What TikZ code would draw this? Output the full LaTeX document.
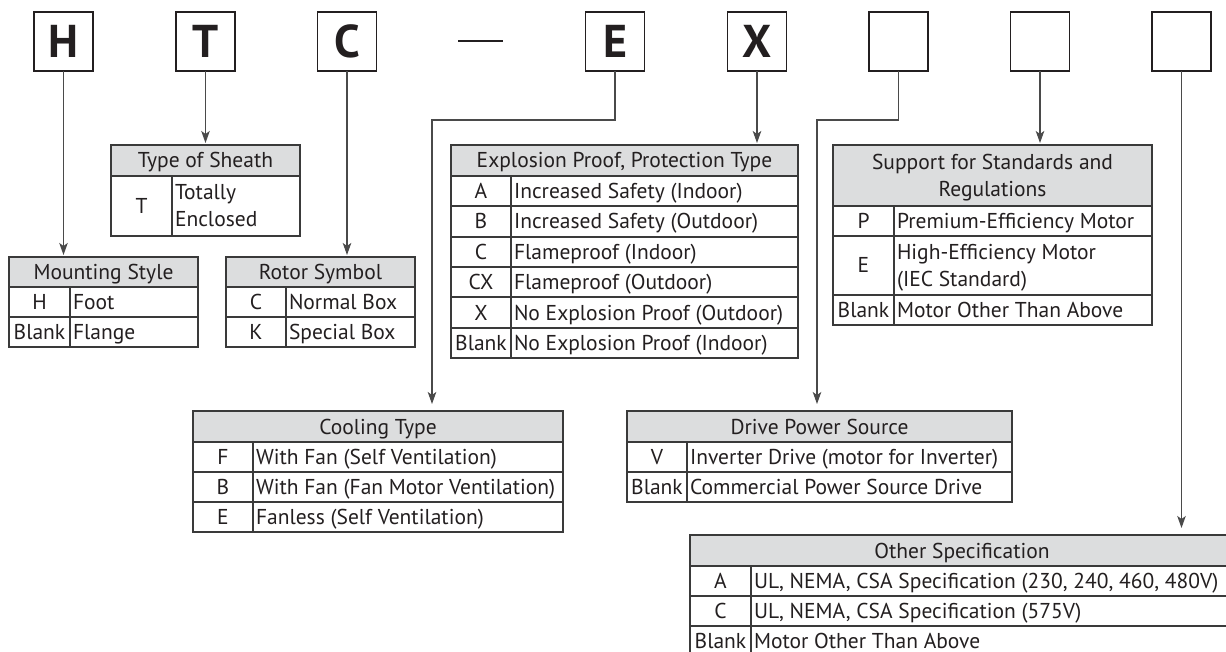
\documentclass[tikz,border=0pt]{standalone}
\usepackage{fontspec}
\setmainfont{PT Sans}
\usetikzlibrary{arrows.meta}
\definecolor{hdrgray}{HTML}{DCDDDE}
\definecolor{ink}{HTML}{231F20}
\definecolor{rulec}{HTML}{3A3A3A}
\definecolor{wirec}{HTML}{4A4A4A}
\tikzset{
  lbox/.style={draw=ink, line width=1.8pt, minimum size=59pt, inner sep=0pt, outer sep=0pt,
    font=\fontsize{46}{46}\selectfont\bfseries, text=ink},
  hdrbox/.style={draw=rulec, fill=hdrgray, line width=1.2pt, inner sep=0pt, outer sep=0pt, anchor=north west},
  tbl/.style={draw=rulec, line width=1.2pt},
  txt/.style={inner sep=0pt, outer sep=0pt, text=ink, font=\fontsize{21.5}{27}\selectfont},
  wire/.style={draw=wirec, line width=1.1pt, -{Stealth[length=12pt,width=8.5pt,inset=3pt]}, shorten >=2pt},
  farwire/.style={wire, shorten >=7pt},
}
% header, single line: name x0 x1 ytop ybot text
\newcommand{\thead}[6]{%
  \node[hdrbox, minimum width={(#3-#2)*1pt}, minimum height={(#5-#4)*1pt}] (#1) at (#2,#4) {};
  \node[txt, anchor=base] (#1t) at ({(#2+#3)/2},{(#4+#5)/2+7.5}) {#6};}
% header, two lines
\newcommand{\theadtwo}[7]{%
  \node[hdrbox, minimum width={(#3-#2)*1pt}, minimum height={(#5-#4)*1pt}] (#1) at (#2,#4) {};
  \node[txt, anchor=base] (#1t) at ({(#2+#3)/2},{(#4+#5)/2-6}) {#6};
  \node[txt, anchor=base] (#1u) at ({(#2+#3)/2},{(#4+#5)/2+21}) {#7};}
% row: name x0 xd x1 ytop ybot key value
\newcommand{\trow}[8]{%
  \draw[tbl] (#2,#5) rectangle (#4,#6) (#3,#5) -- (#3,#6);
  \node[txt, anchor=base] (#1k) at ({(#2+#3)/2},{(#5+#6)/2+7.5}) {#7};
  \node[txt, anchor=base west] (#1v) at ({#3+3},{(#5+#6)/2+7.5}) {#8};}
% two-line row
\newcommand{\trowtwo}[9]{%
  \draw[tbl] (#2,#5) rectangle (#4,#6) (#3,#5) -- (#3,#6);
  \node[txt, anchor=base] (#1k) at ({(#2+#3)/2},{(#5+#6)/2+7.5}) {#7};
  \node[txt, anchor=base west] (#1v) at ({#3+3},{(#5+#6)/2-6}) {#8};
  \node[txt, anchor=base west] (#1w) at ({#3+3},{(#5+#6)/2+21}) {#9};}
\begin{document}
\begin{tikzpicture}[x=1pt,y=-1pt]
\useasboundingbox (0,0) rectangle (1226,652);
\clip (0,0) rectangle (1226,652);
\fill[white] (0,0) rectangle (1226,652);
% code boxes
\node[lbox] (Hb) at (63.5,41.5) {H};
\node[lbox] (Tb) at (205.5,41.5) {T};
\node[lbox] (Cb) at (347,41.5) {C};
\node[lbox] (Eb) at (615,41.5) {E};
\node[lbox] (Xb) at (757,41.5) {X};
\node[lbox] (B6) at (898.5,41.5) {};
\node[lbox] (B7) at (1040,41.5) {};
\node[lbox] (B8) at (1181.5,41.5) {};
\coordinate (dashL) at (458,41);
\coordinate (dashR) at (503,41);
\draw[ink, line width=1.5pt] (dashL) -- (dashR);
% Type of Sheath
\thead{sheath}{111}{300}{145}{176}{Type of Sheath}
\trowtwo{shT}{111}{172}{300}{176}{236}{T}{Totally}{Enclosed}
% Mounting Style
\thead{mount}{9}{198}{257}{287}{Mounting Style}
\trow{msH}{9}{70}{198}{287}{317}{H}{Foot}
\trow{msB}{9}{70}{198}{317}{347}{Blank}{Flange}
% Rotor Symbol
\thead{rotor}{226}{415}{257}{287}{Rotor Symbol}
\trow{rsC}{226}{286}{415}{287}{317}{C}{Normal Box}
\trow{rsK}{226}{286}{415}{317}{347}{K}{Special Box}
% Explosion proof
\thead{expl}{451}{798}{145}{176}{Explosion Proof, Protection Type}
\trow{exA}{451}{511}{798}{176}{206}{A}{Increased Safety (Indoor)}
\trow{exB}{451}{511}{798}{206}{237}{B}{Increased Safety (Outdoor)}
\trow{exC}{451}{511}{798}{237}{267}{C}{Flameproof (Indoor)}
\trow{exCX}{451}{511}{798}{267}{297}{CX}{Flameproof (Outdoor)}
\trow{exX}{451}{511}{798}{297}{328}{X}{No Explosion Proof (Outdoor)}
\trow{exBl}{451}{511}{798}{328}{358}{Blank}{No Explosion Proof (Indoor)}
% Support for standards
\theadtwo{supp}{833}{1152}{145}{206}{Support for Standards and}{Regulations}
\trow{suP}{833}{894}{1152}{206}{236}{P}{Premium-Efficiency Motor}
\trowtwo{suE}{833}{894}{1152}{236}{295}{E}{High-Efficiency Motor}{(IEC Standard)}
\trow{suB}{833}{894}{1152}{295}{325}{Blank}{Motor Other Than Above}
% Cooling type
\thead{cool}{193}{563}{411}{442}{Cooling Type}
\trow{coF}{193}{253}{563}{442}{472}{F}{With Fan (Self Ventilation)}
\trow{coB}{193}{253}{563}{472}{502}{B}{With Fan (Fan Motor Ventilation)}
\trow{coE}{193}{253}{563}{502}{532}{E}{Fanless (Self Ventilation)}
% Drive power source
\thead{drive}{627}{1012}{411}{442}{Drive Power Source}
\trow{drV}{627}{687}{1012}{442}{472}{V}{Inverter Drive (motor for Inverter)}
\trow{drB}{627}{687}{1012}{472}{502}{Blank}{Commercial Power Source Drive}
% Other specification
\thead{other}{690}{1234}{535}{566}{Other Specification}
\trow{otA}{690}{751}{1234}{566}{596}{A}{UL, NEMA, CSA Specification (230, 240, 460, 480V)}
\trow{otC}{690}{751}{1234}{596}{626}{C}{UL, NEMA, CSA Specification (575V)}
\trow{otB}{690}{751}{1234}{626}{656}{Blank}{Motor Other Than Above}
% connectors
\coordinate (Ebend) at (432,120);
\coordinate (Fbend) at (817,120);
\draw[wire] (Hb.south) -- (Hb.south |- mount.north);
\draw[wire] (Tb.south) -- (Tb.south |- sheath.north);
\draw[wire] (Cb.south) -- (Cb.south |- rotor.north);
\draw[farwire] (Eb.south) |- (Ebend) -- (Ebend |- cool.north);
\draw[wire] (Xb.south) -- (Xb.south |- expl.north);
\draw[farwire] (B6.south) |- (Fbend) -- (Fbend |- drive.north);
\draw[wire] (B7.south) -- (B7.south |- supp.north);
\draw[farwire] (B8.south) -- (B8.south |- other.north);
\end{tikzpicture}
\end{document}
